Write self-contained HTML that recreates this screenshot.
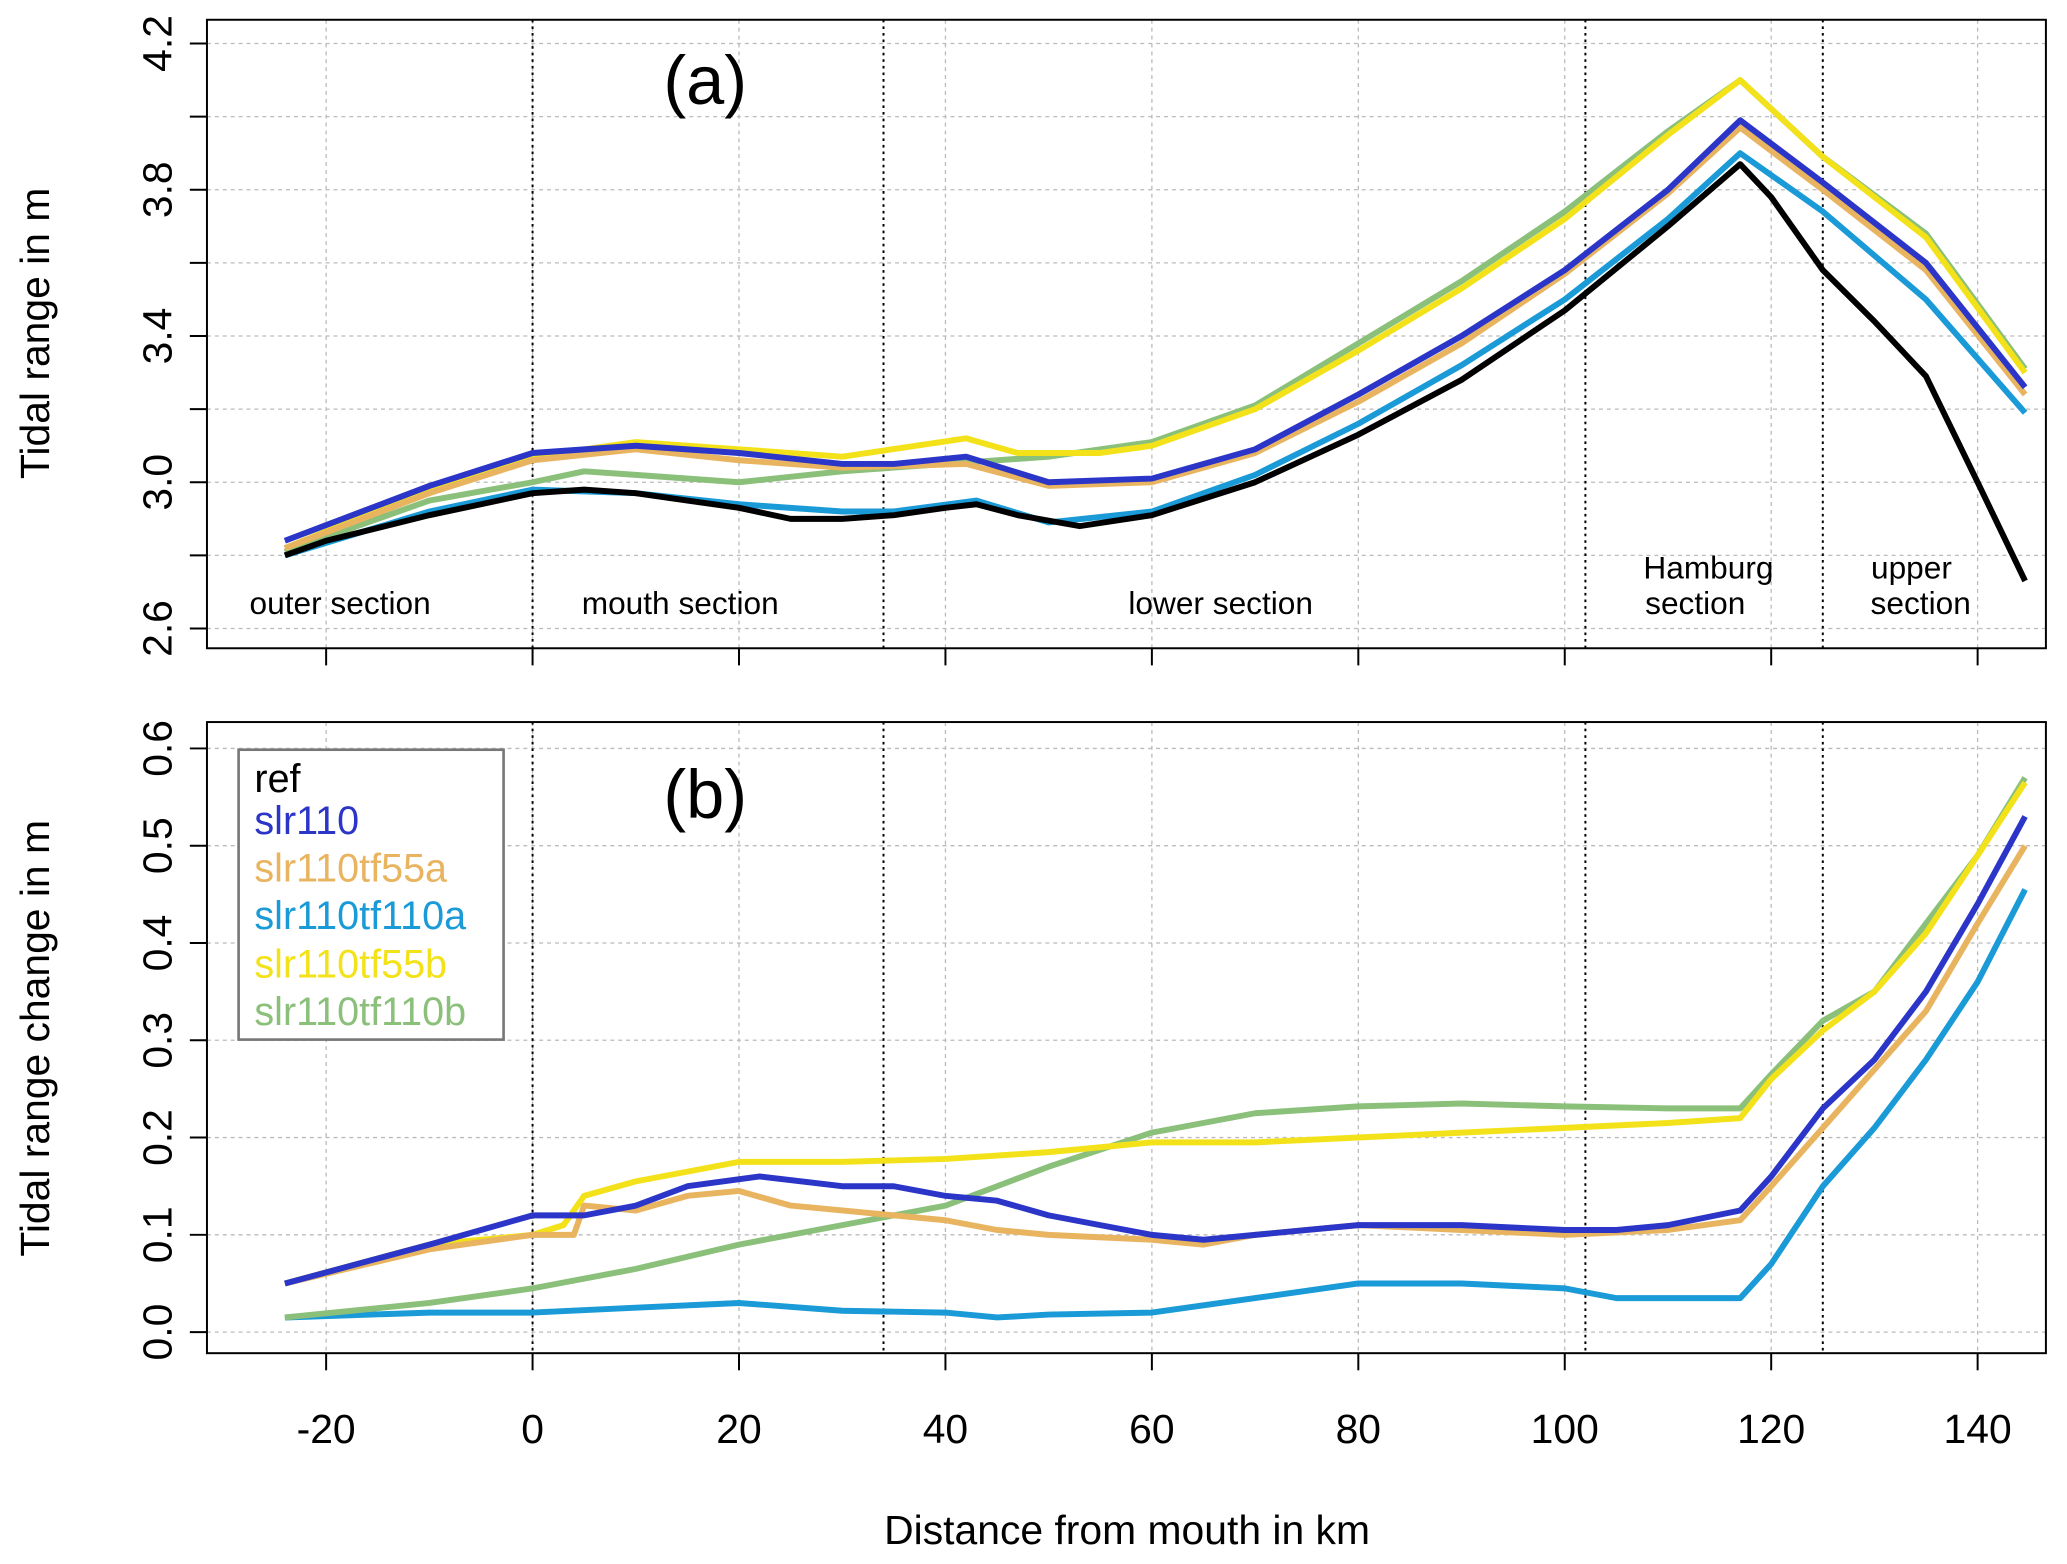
<!DOCTYPE html>
<html><head><meta charset="utf-8"><style>
html,body{margin:0;padding:0;background:#fff}
svg{display:block}
text{font-family:"Liberation Sans",Arial,sans-serif}
</style></head><body>
<svg id="s" width="2067" height="1564" viewBox="0 0 1568 1187" preserveAspectRatio="none" xmlns="http://www.w3.org/2000/svg">
<g id="g"></g>
<rect x="157" y="15" width="1395" height="477" fill="none" stroke="#000" stroke-width="1.5"/>
<rect x="157" y="548" width="1395" height="479" fill="none" stroke="#000" stroke-width="1.5"/>
<text x="535" y="79" font-size="52" text-anchor="middle">(a)</text>
<text x="535" y="621" font-size="52" text-anchor="middle">(b)</text>
<g font-size="24" text-anchor="middle">
<text x="258" y="466">outer section</text>
<text x="516" y="466">mouth section</text>
<text x="926" y="466">lower section</text>
<text x="1296" y="439">Hamburg</text>
<text x="1286" y="466">section</text>
<text x="1450" y="439">upper</text>
<text x="1457" y="466">section</text>
</g>
<text x="855" y="1172" font-size="31" text-anchor="middle">Distance from mouth in km</text>
<text transform="translate(37,253) rotate(-90)" font-size="31" text-anchor="middle">Tidal range in m</text>
<text transform="translate(37,788) rotate(-90)" font-size="31" text-anchor="middle">Tidal range change in m</text>
<rect x="181" y="569" width="201" height="220" fill="#fff" stroke="#777" stroke-width="2"/>
<g font-size="30">
<text x="193" y="601" fill="#000">ref</text>
<text x="193" y="633" fill="#2b35c8">slr110</text>
<text x="193" y="669" fill="#e8b460">slr110tf55a</text>
<text x="193" y="705" fill="#1a9ad6">slr110tf110a</text>
<text x="193" y="742" fill="#f3e21a">slr110tf55b</text>
<text x="193" y="778" fill="#8bc07a">slr110tf110b</text>
</g>
</svg>
<script>
const g=document.getElementById('g');const NS='http://www.w3.org/2000/svg';
function el(t,a,txt){const e=document.createElementNS(NS,t);for(const k in a)e.setAttribute(k,a[k]);if(txt!==undefined)e.textContent=txt;g.appendChild(e);return e;}
const X=k=>404+k*7.83;
const YA=v=>366-(v-3)*277.5;
const YB=v=>1011-v*738.3;
for(let k=-20;k<=140;k+=20){
 el('line',{x1:X(k),x2:X(k),y1:15,y2:492,stroke:'#bbb','stroke-dasharray':'3,3'});
 el('line',{x1:X(k),x2:X(k),y1:548,y2:1027,stroke:'#bbb','stroke-dasharray':'3,3'});
 el('line',{x1:X(k),x2:X(k),y1:492,y2:505,stroke:'#000','stroke-width':1.5});
 el('line',{x1:X(k),x2:X(k),y1:1027,y2:1040,stroke:'#000','stroke-width':1.5});
 el('text',{x:X(k),y:1095,'font-size':31,'text-anchor':'middle'},String(k));
}
for(let v=2.6;v<=4.21;v+=0.2){const y=YA(v);
 el('line',{x1:157,x2:1552,y1:y,y2:y,stroke:'#bbb','stroke-dasharray':'3,3'});
 el('line',{x1:144,x2:157,y1:y,y2:y,stroke:'#000','stroke-width':1.5});}
for(const v of [2.6,3.0,3.4,3.8,4.2]){el('text',{transform:`translate(130,${YA(v)}) rotate(-90)`,'font-size':31,'text-anchor':'middle'},v.toFixed(1));}
for(let i=0;i<=6;i++){const v=i/10,y=YB(v);
 el('line',{x1:157,x2:1552,y1:y,y2:y,stroke:'#bbb','stroke-dasharray':'3,3'});
 el('line',{x1:144,x2:157,y1:y,y2:y,stroke:'#000','stroke-width':1.5});
 el('text',{transform:`translate(130,${y}) rotate(-90)`,'font-size':31,'text-anchor':'middle'},v.toFixed(1));}
for(const k of [0,34,102,125]){
 el('line',{x1:X(k),x2:X(k),y1:15,y2:492,stroke:'#000','stroke-dasharray':'2,3','stroke-width':1.5});
 el('line',{x1:X(k),x2:X(k),y1:548,y2:1027,stroke:'#000','stroke-dasharray':'2,3','stroke-width':1.5});}
function P(d){return d.match(/[-\d.]+:[-\d.]+/g).map(s=>s.split(':').map(Number));}
function draw(d,Y,c){const p=P(d);let s='';p.forEach((q,i)=>{s+=(i?'L':'M')+X(q[0]).toFixed(1)+','+Y(q[1]).toFixed(1);});
 el('path',{d:s,fill:'none',stroke:c,'stroke-width':4.5,'stroke-linejoin':'round'});}
const A=[
['#8bc07a','-24:2.81,-10:2.95,0:3.00,5:3.03,10:3.02,20:3.00,30:3.03,40:3.05,50:3.07,60:3.11,70:3.21,80:3.38,90:3.55,100:3.74,110:3.96,117:4.10,125:3.89,135:3.68,144.6:3.31'],
['#f3e21a','-24:2.82,-10:2.98,0:3.07,10:3.11,20:3.09,30:3.07,42:3.12,47:3.08,55:3.08,60:3.10,70:3.20,80:3.36,90:3.53,100:3.72,110:3.95,117:4.10,125:3.89,135:3.67,144.6:3.30'],
['#1a9ad6','-24:2.80,-10:2.92,0:2.98,10:2.97,20:2.94,30:2.92,35:2.92,43:2.95,50:2.89,60:2.92,70:3.02,80:3.16,90:3.32,100:3.50,110:3.72,117:3.90,125:3.74,135:3.50,144.6:3.19'],
['#e8b460','-24:2.82,-10:2.97,0:3.06,10:3.09,20:3.06,30:3.04,42:3.05,50:2.99,60:3.00,70:3.08,80:3.22,90:3.38,100:3.57,110:3.79,117:3.97,125:3.80,135:3.58,144.6:3.24'],
['#2b35c8','-24:2.84,-10:2.99,0:3.08,10:3.10,20:3.08,30:3.05,35:3.05,42:3.07,50:3.00,60:3.01,70:3.09,80:3.24,90:3.40,100:3.58,110:3.80,117:3.99,125:3.82,135:3.60,144.6:3.26'],
['#000','-24:2.80,-20:2.84,-10:2.91,-5:2.94,0:2.97,5:2.98,10:2.97,15:2.95,20:2.93,25:2.90,30:2.90,35:2.91,40:2.93,43:2.94,47:2.91,53:2.88,60:2.91,70:3.00,80:3.13,90:3.28,100:3.47,110:3.70,117:3.87,120:3.78,125:3.58,130:3.44,135:3.29,140:3.00,144.6:2.73']];
A.forEach(a=>draw(a[1],YA,a[0]));
const B=[
['#1a9ad6','-24:0.015,-10:0.02,0:0.02,10:0.025,20:0.03,30:0.022,40:0.02,45:0.015,50:0.018,60:0.02,70:0.035,80:0.05,90:0.05,100:0.045,105:0.035,117:0.035,120:0.07,125:0.15,130:0.21,135:0.28,140:0.36,144.6:0.455'],
['#8bc07a','-24:0.015,-10:0.03,0:0.045,10:0.065,20:0.09,30:0.11,40:0.13,45:0.15,50:0.17,60:0.205,70:0.225,80:0.232,90:0.235,100:0.232,110:0.23,117:0.23,120:0.265,125:0.32,130:0.35,135:0.42,140:0.49,144.6:0.57'],
['#f3e21a','-24:0.05,-10:0.09,0:0.10,3:0.11,5:0.14,10:0.155,15:0.165,20:0.175,30:0.175,40:0.178,50:0.185,60:0.195,70:0.195,80:0.20,90:0.205,100:0.21,110:0.215,117:0.22,120:0.26,125:0.31,130:0.35,135:0.41,140:0.49,144.6:0.565'],
['#e8b460','-24:0.05,-10:0.085,0:0.10,4:0.10,5:0.13,10:0.125,15:0.14,20:0.145,25:0.13,30:0.125,40:0.115,45:0.105,50:0.10,60:0.095,65:0.09,70:0.10,80:0.11,90:0.105,100:0.10,110:0.105,117:0.115,120:0.15,125:0.21,130:0.27,135:0.33,140:0.42,144.6:0.50'],
['#2b35c8','-24:0.05,-10:0.09,0:0.12,5:0.12,10:0.13,15:0.15,22:0.16,30:0.15,35:0.15,40:0.14,45:0.135,50:0.12,55:0.11,60:0.10,65:0.095,70:0.10,80:0.11,90:0.11,100:0.105,105:0.105,110:0.11,117:0.125,120:0.16,125:0.23,130:0.28,135:0.35,140:0.44,144.6:0.53']];
B.forEach(a=>draw(a[1],YB,a[0]));
</script>
</body></html>
